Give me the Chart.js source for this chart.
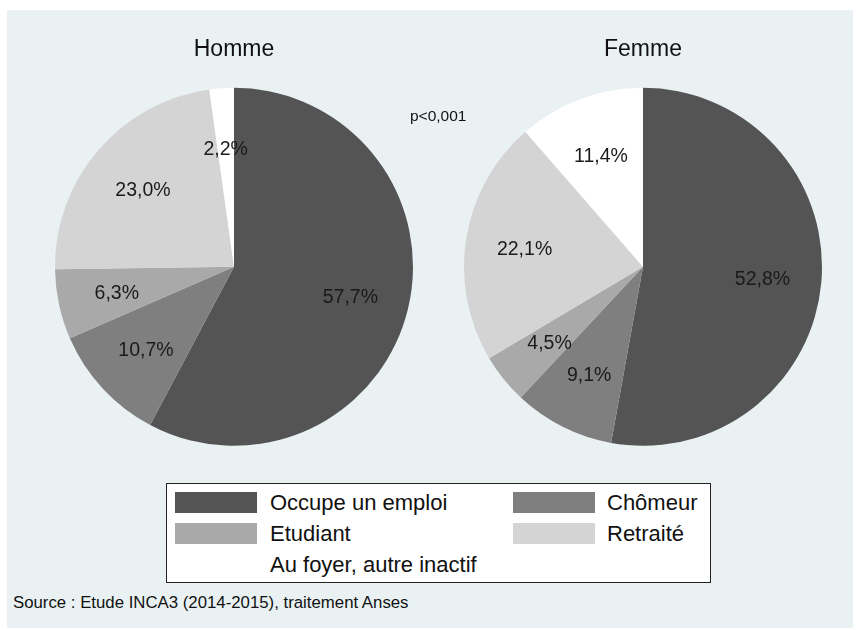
<!DOCTYPE html>
<html>
<head>
<meta charset="utf-8">
<script src="https://cdn.jsdelivr.net/npm/chart.js@4"></script>
<style>
  body { margin: 0; background: #fff; font-family: "Liberation Sans", Arial, sans-serif; }
  #frame { position: absolute; left: 7px; top: 10px; width: 846px; height: 618px; background: #e9f1f3; }
  canvas { position: absolute; }
  .txt { position: absolute; color: #111; white-space: nowrap; }
  #legend { position: absolute; left: 166px; top: 483px; width: 543px; height: 98px; background: #fff; border: 1px solid #222; }
  .sw { position: absolute; width: 82px; height: 21px; }
  .lt { position: absolute; font-size: 22px; line-height: 22px; color: #111; white-space: nowrap; }
</style>
</head>
<body>
<div id="frame"></div>
<canvas id="homme" width="358" height="416" style="left:55px;top:30px;width:358px;height:416px"></canvas>
<canvas id="femme" width="358" height="416" style="left:464px;top:30px;width:358px;height:416px"></canvas>
<div class="txt" style="left:410px;top:107px;font-size:15.5px">p&lt;0,001</div>
<div id="legend"></div>
<div class="txt" style="left:13px;top:593px;font-size:16.8px">Source : Etude INCA3 (2014-2015), traitement Anses</div>
<script>
const categories = ["Occupe un emploi", "Chômeur", "Etudiant", "Retraité", "Au foyer, autre inactif"];
const hommeValues = [57.7, 10.7, 6.3, 23.0, 2.2];
const femmeValues = [52.8, 9.1, 4.5, 22.1, 11.4];
const sliceColors = ["#545454", "#7f7f7f", "#a9a9a9", "#d4d4d4", "#ffffff"];

// percentage labels placed inside each slice
const sliceLabels = {
  id: "sliceLabels",
  afterDatasetsDraw(chart) {
    const ctx = chart.ctx;
    const meta = chart.getDatasetMeta(0);
    const data = chart.data.datasets[0].data;
    ctx.save();
    ctx.font = "19.5px 'Liberation Sans', Arial, sans-serif";
    ctx.fillStyle = "#1a1a1a";
    ctx.textAlign = "center";
    ctx.textBaseline = "middle";
    meta.data.forEach((arc, i) => {
      const a = (arc.startAngle + arc.endAngle) / 2;
      const r = arc.outerRadius * 0.67;
      const txt = data[i].toFixed(1).replace(".", ",") + "%";
      ctx.fillText(txt, arc.x + Math.cos(a) * r, arc.y + Math.sin(a) * r + 2);
    });
    ctx.restore();
  }
};

function makePie(id, title, values) {
  new Chart(document.getElementById(id), {
    type: "pie",
    data: {
      labels: categories,
      datasets: [{
        data: values,
        backgroundColor: sliceColors,
        borderWidth: 0,
        hoverOffset: 0,
        offset: 0
      }]
    },
    options: {
      responsive: false,
      animation: false,
      events: [],
      layout: { padding: 0 },
      plugins: {
        legend: { display: false },
        tooltip: { enabled: false },
        title: {
          display: true,
          text: title,
          color: "#111",
          font: { family: "'Liberation Sans', Arial, sans-serif", size: 23, weight: "normal", lineHeight: 1.2 },
          padding: { top: 6, bottom: 24 }
        }
      }
    },
    plugins: [sliceLabels]
  });
}

makePie("homme", "Homme", hommeValues);
makePie("femme", "Femme", femmeValues);

// legend: two columns, filled row by row
const legend = document.getElementById("legend");
categories.forEach((name, i) => {
  const col = i % 2, row = Math.floor(i / 2);
  const sw = document.createElement("div");
  sw.className = "sw";
  sw.style.left = (col ? 346 : 8) + "px";
  sw.style.top = (8 + row * 31) + "px";
  sw.style.background = sliceColors[i];
  legend.appendChild(sw);
  const t = document.createElement("div");
  t.className = "lt";
  t.textContent = name;
  t.style.left = (col ? 440 : 103) + "px";
  t.style.top = (8 + row * 31) + "px";
  legend.appendChild(t);
});
</script>
</body>
</html>
